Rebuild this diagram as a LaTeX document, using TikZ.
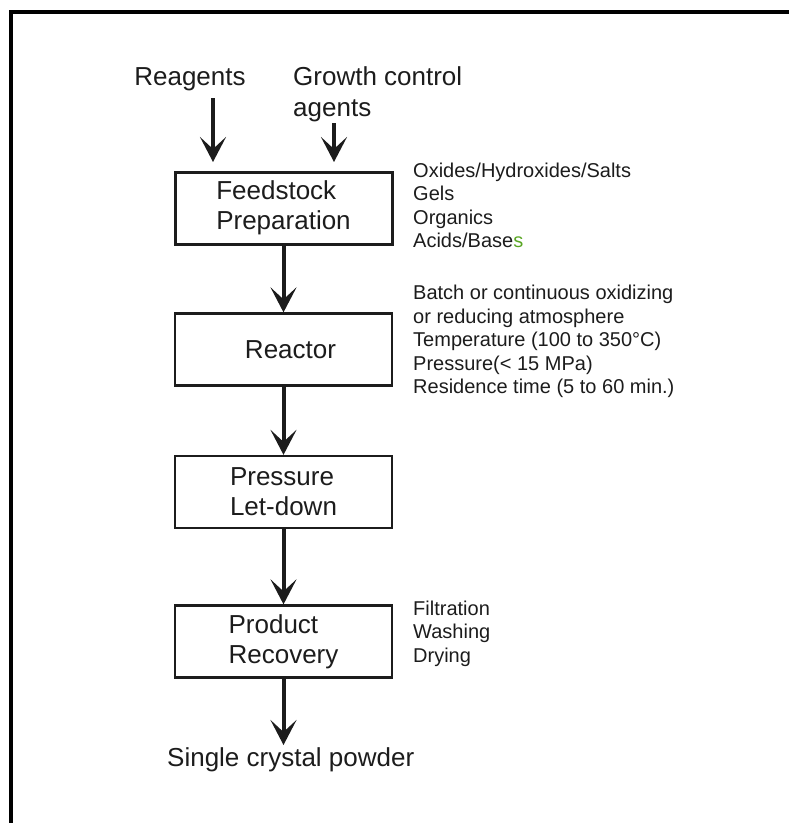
\documentclass[tikz,border=0pt]{standalone}
\usepackage{fontspec}
\setmainfont{Liberation Sans}
\usetikzlibrary{arrows.meta}
\definecolor{txt}{HTML}{1C1C1C}
\definecolor{greens}{RGB}{89,166,35}
\tikzset{
  big/.style={font=\fontsize{26}{31}\selectfont, text=txt, inner sep=0pt},
  side/.style={font=\fontsize{20}{23.5}\selectfont, text=txt, inner sep=0pt, anchor=west, align=left},
  stepbox/.style={draw=txt, line width=2.3pt, minimum width=217pt, minimum height=72pt,
    inner sep=0pt, align=left, font=\fontsize{26}{30}\selectfont, text=txt},
  arr/.style={draw=txt, line width=4pt, -{Stealth[length=25pt,width=26pt,inset=12pt]}}
}
\begin{document}
\begin{tikzpicture}[x=1pt,y=-1pt]
\useasboundingbox (0,0) rectangle (789,823);
% frame (top and left edges visible)
\draw[line width=4pt, line join=miter] (11,823) -- (11,12) -- (789,12);

% inputs
\node[big] (reag) at (190,79) {Reagents};
\node[big, anchor=west, align=left] (grow) at (293,94) {Growth control\\agents};
\coordinate (rs) at (213,98);
\coordinate (rt) at (213,162);
\coordinate (gs) at (334,123);
\coordinate (gt) at (334,162);
\draw[arr] (rs) -- (rt);
\draw[arr] (gs) -- (gt);

% boxes
\node[stepbox, line width=3pt] (feed) at (283.5,208) {Feedstock\\Preparation};
\node[stepbox] (reac) at (283.5,349.5) {\hspace*{14pt}Reactor};
\node[stepbox] (pres) at (283.5,492) {Pressure\\Let-down};
\node[stepbox] (reco) at (283.5,641.5) {Product\\Recovery};

\draw[arr] (feed) -- (reac);
\draw[arr] (reac) -- (pres);
\draw[arr] (pres) -- (reco);
\coordinate (fin) at (283.5,745);
\draw[arr] (reco) -- (fin);

\node[big, anchor=west] (out) at (167,760) {Single crystal powder};

% side notes
\node[side] (n1) at (413,205.5) {Oxides/Hydroxides/Salts\\Gels\\Organics\\Acids/Base\textcolor{greens}{s}};
\node[side] (n2) at (413,341.5) {Batch or continuous oxidizing\\or reducing atmosphere\\Temperature (100 to 350°C)\\Pressure(< 15 MPa)\\Residence time (5 to 60 min.)};
\node[side] (n3) at (413,633.5) {Filtration\\Washing\\Drying};
\end{tikzpicture}
\end{document}
